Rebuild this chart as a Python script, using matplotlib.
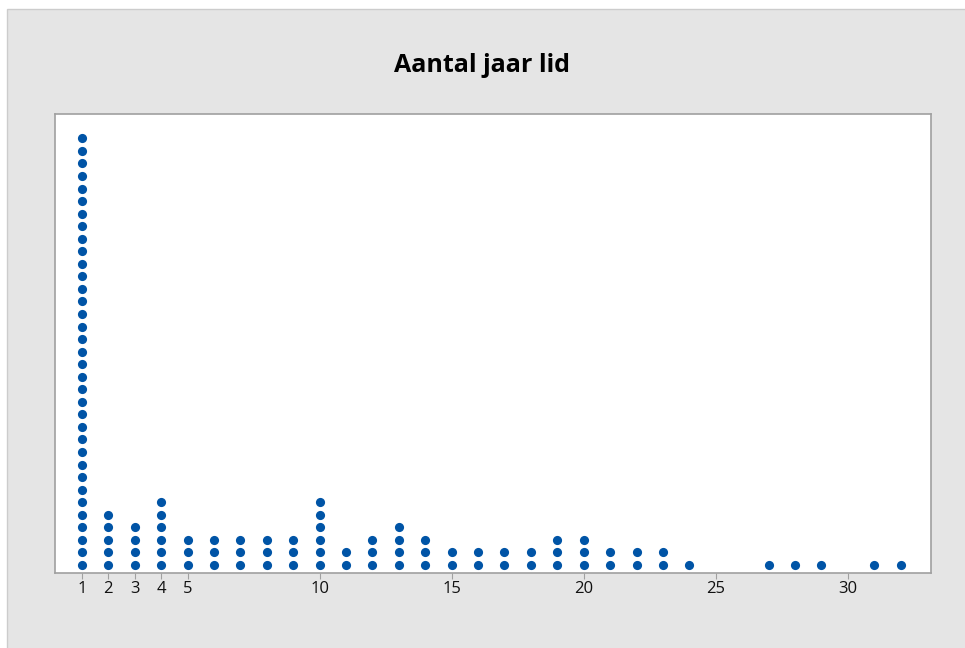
import matplotlib
matplotlib.use('Agg')
import matplotlib.pyplot as plt
from matplotlib.patches import Rectangle
import numpy as np

# aantal jaar lid en aantal leden per waarde
jaren = [1, 2, 3, 4, 5, 6, 7, 8, 9, 10, 11, 12, 13, 14, 15, 16, 17, 18, 19, 20,
         21, 22, 23, 24, 27, 28, 29, 31, 32]
aantal = [35, 5, 4, 6, 3, 3, 3, 3, 3, 6, 2, 3, 4, 3, 2, 2, 2, 2, 3, 3,
          2, 2, 2, 1, 1, 1, 1, 1, 1]
xticks = [1, 2, 3, 4, 5, 10, 15, 20, 25, 30]

W, H = 965, 648
fig = plt.figure(figsize=(W / 100, H / 100), dpi=100)
fig.patch.set_facecolor('white')
# grijs paneel
fig.patches.append(Rectangle((7 / W, -0.01), 1.1, 1.01 - 9 / H, transform=fig.transFigure,
                             facecolor='#e5e5e5', edgecolor='#cccccc', lw=1,
                             zorder=-10))

ax = fig.add_axes([55 / W, 1 - 573 / H, (931 - 55) / W, (573 - 114) / H])
ax.set_facecolor('white')

# punten opbouwen: elke waarde een stapel
xs, ys = [], []
for j, n in zip(jaren, aantal):
    for k in range(n):
        xs.append(j)
        ys.append(k)
ax.plot(xs, ys, 'o', color='#0054a6', markersize=6.6, markeredgewidth=0)

ax.set_xlim(-0.02, 33.15)
ax.set_ylim(-0.64, 35.94)
ax.set_yticks([])
ax.set_xticks(xticks)
ax.set_xticklabels([str(t) for t in xticks], fontsize=12, family='Open Sans',
                   color='#111111')
ax.tick_params(axis='x', direction='out', length=4, color='#a0a0a0', pad=2)
for s in ax.spines.values():
    s.set_color('#a0a0a0')
    s.set_linewidth(1.2)

fig.text(0.5, 1 - 66 / H, 'Aantal jaar lid', ha='center', va='center',
         fontsize=18, fontweight='bold', family='Open Sans')

fig.savefig('out.png', dpi=100)
